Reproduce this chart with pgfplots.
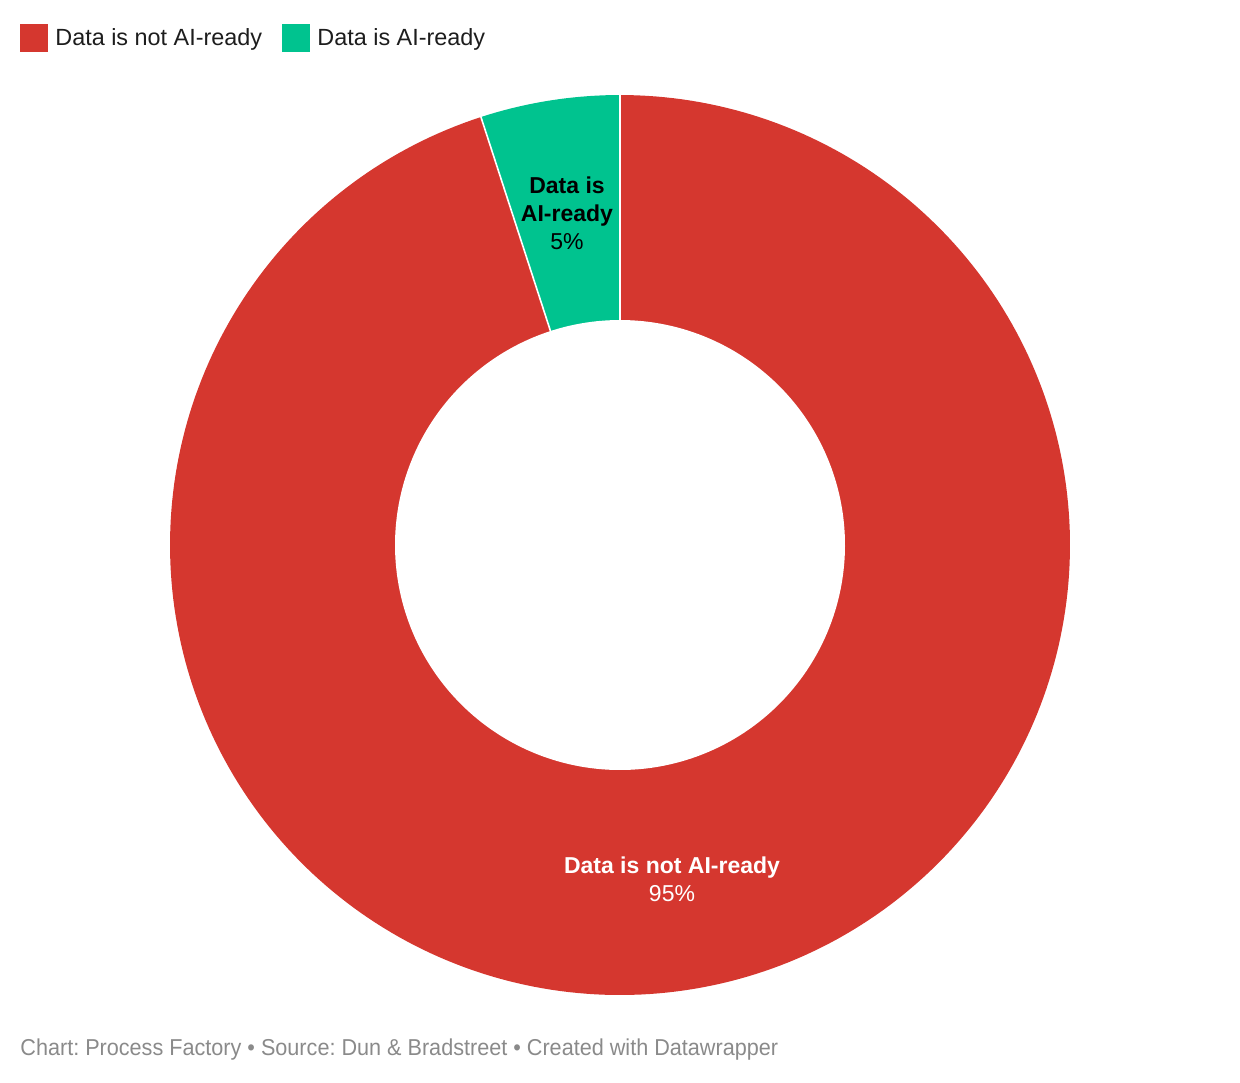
\documentclass[border=0pt]{standalone}
\usepackage{pgfplots}
\pgfplotsset{compat=1.18}
\usepackage{pgfplotstable}
\usepackage{fontspec}
\setmainfont{Liberation Sans}
\newfontfamily\condfont[FakeStretch=0.94]{Liberation Sans}
\definecolor{redc}{HTML}{D5372F}
\definecolor{greenc}{HTML}{00C38F}
\definecolor{txt}{HTML}{1D1D1D}
\definecolor{foot}{HTML}{8A8A8A}
\pgfplotstableread{
label value
notready 95
ready 5
}\shares
\pgfplotstablegetelem{0}{value}\of\shares \let\vA\pgfplotsretval
\pgfplotstablegetelem{1}{value}\of\shares \let\vB\pgfplotsretval
\pgfmathsetmacro\angA{\vA/(\vA+\vB)*360}
\frenchspacing
\begin{document}
\begin{tikzpicture}
\begin{axis}[
  scale only axis, width=620pt, height=541pt,
  hide axis, clip=false,
  xmin=0, xmax=1240, ymin=0, ymax=1082, y dir=reverse,
]
\path (axis cs:0,0) rectangle (axis cs:1240,1082);
\addplot[fill=redc, draw=none, domain=0:\angA, samples=300]
  ({620+450*sin(x)},{545-450*cos(x)}) -- (axis cs:620,545) -- cycle;
\addplot[fill=greenc, draw=none, domain=\angA:360, samples=40]
  ({620+450*sin(x)},{545-450*cos(x)}) -- (axis cs:620,545) -- cycle;
\addplot[fill=white, draw=none, domain=0:360, samples=300]
  ({620+225*sin(x)},{545-225*cos(x)}) -- cycle;
\addplot[white, line width=0.8pt, domain=224:451, samples=2]
  ({620+x*sin(\angA)},{545-x*cos(\angA)});
\addplot[white, line width=0.8pt, domain=224:451, samples=2]
  ({620},{545-x});
% legend
\fill[redc] (axis cs:20,24) rectangle (axis cs:48,52);
\node[anchor=west, inner sep=0pt, text=txt, font=\fontsize{11.7}{14}\selectfont] at (axis cs:55,39.5) {Data is not AI-ready};
\fill[greenc] (axis cs:282,24) rectangle (axis cs:310,52);
\node[anchor=west, inner sep=0pt, text=txt, font=\fontsize{11.7}{14}\selectfont] at (axis cs:317,39.5) {Data is AI-ready};
% slice labels
\node[align=center, inner sep=0pt, text=black, font=\fontsize{11.5}{14}\selectfont] at (axis cs:567,213.5) {\textbf{Data is}\\\textbf{AI-ready}\\5\%};
\node[align=center, inner sep=0pt, text=white, font=\fontsize{11.5}{14}\selectfont] at (axis cs:672,879) {\textbf{Data is not AI-ready}\\95\%};
% footer
\node[anchor=west, inner sep=0pt, text=foot, font=\condfont\fontsize{11.5}{14}\selectfont] at (axis cs:20,1049.5) {Chart: Process Factory • Source: Dun \& Bradstreet • Created with Datawrapper};
\end{axis}
\end{tikzpicture}
\end{document}
